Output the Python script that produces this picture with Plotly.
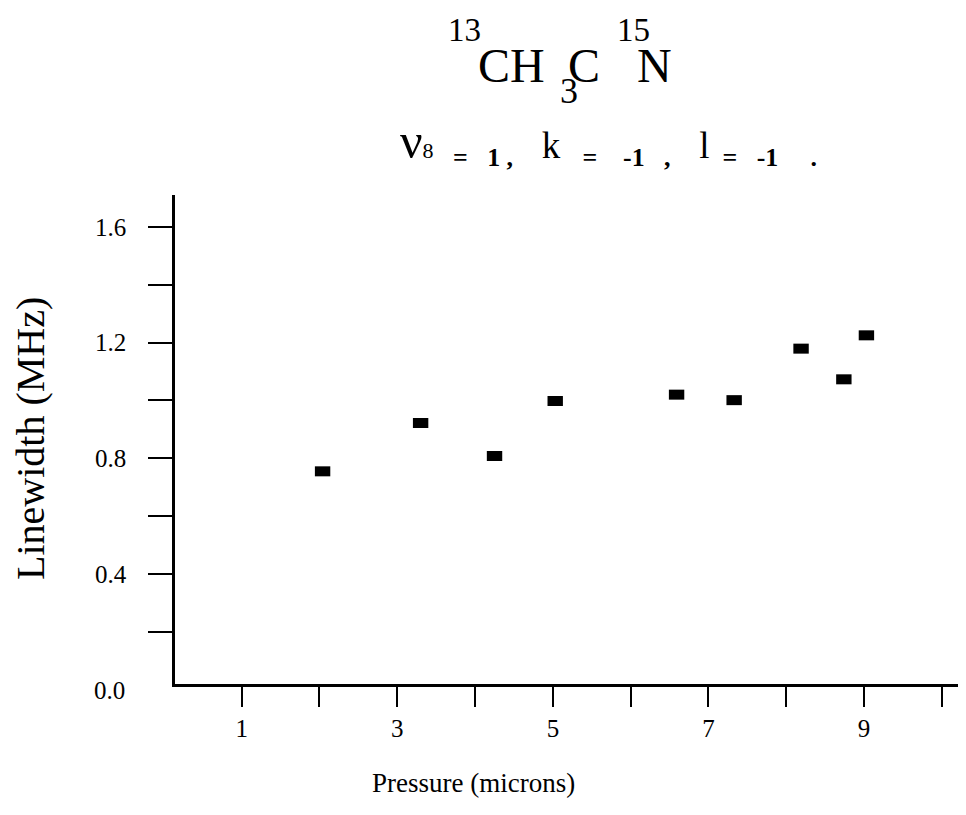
import plotly.graph_objects as go

# Data
pressure = [2.04, 3.30, 4.25, 5.03, 6.59, 7.33, 8.19, 8.74, 9.03]
linewidth = [0.755, 0.922, 0.808, 0.998, 1.020, 1.001, 1.179, 1.073, 1.225]

x_tickvals = [1, 2, 3, 4, 5, 6, 7, 8, 9, 10]
x_ticktext = ["1", "", "3", "", "5", "", "7", "", "9", ""]
y_tickvals = [0.2, 0.4, 0.6, 0.8, 1.0, 1.2, 1.4, 1.6]
y_ticktext = ["", "0.4", "", "0.8", "", "1.2", "", "1.6"]

FONT = "Liberation Serif, Times New Roman, serif"

# plot area in page pixels (the page has an 8px body margin)
L, R, T, B = 175, 966, 195, 684


def px(xp):
    return (xp - L) / (R - L)


def py(yp):
    return (B - yp) / (B - T)


fig = go.Figure()
fig.add_trace(go.Scatter(
    x=pressure, y=linewidth, mode="markers",
    marker=dict(symbol="line-ew", size=11, color="black",
                line=dict(color="black", width=10)),
    cliponaxis=False, showlegend=False,
))

NB = "\u00a0"


def sp(n):
    return NB * n


sub_text = (
    "<span style='font-size:50px'>ν</span><span style='font-size:22px'>8</span>"
    + "<sub><b>" + sp(3) + "=" + sp(3) + "1" + sp(1) + "," + sp(3) + "</b></sub>"
    + sp(1) + "k" + sp(1)
    + "<sub><b>" + sp(2) + "=" + sp(4) + "-1" + sp(3) + "," + sp(3) + "</b></sub>"
    + sp(1) + "l"
    + "<sub><b>" + sp(2) + "=" + sp(3) + "-1" + sp(5) + ".</b></sub>"
)

title_parts = [
    # text, left x px, center y px, size
    ("13", 446, 30, 33),
    ("CH", 476, 66, 48),
    ("3", 558, 91, 36),
    ("C", 566, 66, 48),
    ("15", 615, 30, 33),
    ("N", 635, 66, 48),
]

annotations = [
    dict(text="0.0", xref="paper", yref="paper", x=px(127), y=py(690),
         xanchor="right", yanchor="middle", showarrow=False,
         font=dict(size=25, family=FONT)),
    dict(text=sub_text, xref="paper", yref="paper", x=px(398), y=py(142),
         xanchor="left", yanchor="middle", showarrow=False,
         font=dict(size=37, family=FONT)),
    dict(text="Linewidth (MHz)", xref="paper", yref="paper",
         x=px(30), y=py(439), textangle=-90,
         xanchor="center", yanchor="middle", showarrow=False,
         font=dict(size=40, family=FONT)),
    dict(text="Pressure (microns)", xref="paper", yref="paper",
         x=px(473), y=py(783),
         xanchor="center", yanchor="middle", showarrow=False,
         font=dict(size=27, family=FONT)),
]
for txt, xl, yc, sz in title_parts:
    annotations.append(dict(
        text=txt, xref="paper", yref="paper", x=px(xl), y=py(yc),
        xanchor="left", yanchor="middle", showarrow=False,
        font=dict(size=sz, family=FONT)))

fig.update_layout(
    width=958, height=807,
    margin=dict(l=L - 8, r=0, t=T - 8, b=807 + 8 - B),
    plot_bgcolor="white", paper_bgcolor="white",
    font=dict(family=FONT, color="black"),
    xaxis=dict(
        range=[0.143, 10.31], showgrid=False, zeroline=False,
        showline=True, linecolor="black", linewidth=2.5,
        ticks="outside", ticklen=20, tickwidth=2, tickcolor="black",
        tickvals=x_tickvals, ticktext=x_ticktext,
        tickfont=dict(size=25, family=FONT), ticklabelstandoff=0,
    ),
    yaxis=dict(
        range=[0.02, 1.71], showgrid=False, zeroline=False,
        showline=True, linecolor="black", linewidth=2.5,
        ticks="outside", ticklen=24, tickwidth=2, tickcolor="black",
        tickvals=y_tickvals, ticktext=y_ticktext,
        tickfont=dict(size=25, family=FONT), ticklabelstandoff=17,
    ),
    annotations=annotations,
)

fig.write_html("out.html")
